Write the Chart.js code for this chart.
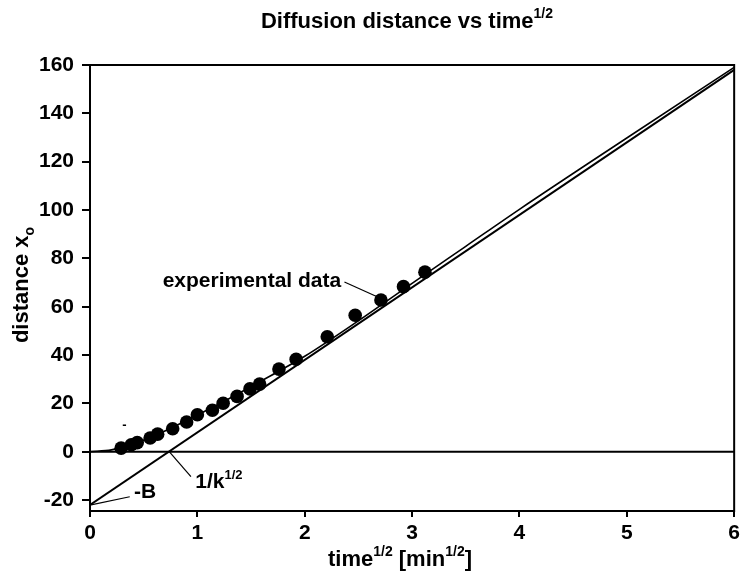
<!DOCTYPE html>
<html><head><meta charset="utf-8">
<script src="https://cdn.jsdelivr.net/npm/chart.js@4/dist/chart.umd.min.js"></script>
<style>html,body{margin:0;padding:0;background:#fff}canvas{display:block}</style>
</head><body>
<canvas id="c" width="744" height="571"></canvas>
<script>
// experimental data (time^1/2 [min^1/2], distance x_o)
const dataX = [0.29,0.385,0.44,0.56,0.63,0.77,0.90,1.00,1.14,1.24,1.37,1.49,1.58,1.76,1.92,2.21,2.47,2.71,2.92,3.12];
const dataY = [1.5,2.9,3.8,5.7,7.3,9.5,12.3,15.3,17.2,20.1,22.9,26.0,28.0,34.2,38.3,47.6,56.5,62.8,68.3,74.3];
// fitted curve
const fitX = [0,0.2,0.4,0.6,0.8,1.0,1.25,1.5,1.75,2.0,2.5,3.0,3.5,4.0,5.0,6.0];
const fitY = [0,0.8,3.2,6.6,10.8,15.2,20.9,27.0,33.1,39.5,54.2,69.7,85.0,100.3,129.8,159.0];
// asymptote line (intercept -B, crosses 0 at 1/k^1/2)
const asymX = [0,6];
const asymY = [-22,158];
// zero line
const zeroX = [0,6];
const zeroY = [0,0];
// ticks
const xTicks = [0,1,2,3,4,5,6];
const yTicks = [-20,0,20,40,60,80,100,120,140,160];

const FONT = "'Liberation Sans', Arial, sans-serif";
const pts = (xs, ys) => xs.map((x,i)=>({x, y: ys[i]}));

function drawRich(ctx, parts, x, y, size, align) {
  const fs = p => 'bold ' + (p.s ? Math.round(size*0.62) : size) + 'px ' + FONT;
  const widths = parts.map(p => { ctx.font = fs(p); return ctx.measureText(p.t).width; });
  const total = widths.reduce((a,b)=>a+b,0);
  let cx = align === 'center' ? x - total/2 : (align === 'right' ? x - total : x);
  ctx.textAlign = 'left'; ctx.textBaseline = 'alphabetic';
  parts.forEach((p,i) => {
    ctx.font = fs(p);
    const dy = p.s === 'sup' ? -size*0.45 : (p.s === 'sub' ? size*0.25 : 0);
    ctx.fillText(p.t, cx, y + dy);
    cx += widths[i];
  });
}

const deco = {
  id: 'deco',
  afterDraw(chart) {
    const {ctx, chartArea: a, scales: {x, y}} = chart;
    ctx.save();
    ctx.strokeStyle = '#000'; ctx.fillStyle = '#000';
    ctx.lineWidth = 2;
    ctx.strokeRect(a.left, a.top, a.right - a.left, a.bottom - a.top);
    // leader lines
    ctx.lineWidth = 1.2;
    const seg = (x1,y1,x2,y2) => { ctx.beginPath(); ctx.moveTo(x.getPixelForValue(x1), y.getPixelForValue(y1)); ctx.lineTo(x.getPixelForValue(x2), y.getPixelForValue(y2)); ctx.stroke(); };
    seg(2.37, 70.2, 2.68, 64.0);
    seg(0.74, 0, 0.94, -10.3);
    seg(0.01, -22, 0.37, -18.6);
    // labels
    drawRich(ctx, [{t:'experimental data'}], x.getPixelForValue(2.34), y.getPixelForValue(68.3), 21, 'right');
    drawRich(ctx, [{t:'1/k'},{t:'1/2', s:'sup'}], x.getPixelForValue(0.98), y.getPixelForValue(-15), 21, 'left');
    drawRich(ctx, [{t:'-B'}], x.getPixelForValue(0.41), y.getPixelForValue(-19), 21, 'left');
    drawRich(ctx, [{t:'-'}], x.getPixelForValue(0.30), y.getPixelForValue(9.5), 13, 'left');
    // title
    drawRich(ctx, [{t:'Diffusion distance vs time'},{t:'1/2', s:'sup'}], 407, 28, 22, 'center');
    // x title
    drawRich(ctx, [{t:'time'},{t:'1/2', s:'sup'},{t:' [min'},{t:'1/2', s:'sup'},{t:']'}], 400, 566, 22, 'center');
    // y title
    ctx.translate(28, 285);
    ctx.rotate(-Math.PI/2);
    drawRich(ctx, [{t:'distance x'},{t:'o', s:'sub'}], 0, 0, 22, 'center');
    ctx.restore();
  }
};

new Chart(document.getElementById('c'), {
  type: 'scatter',
  data: { datasets: [
    { label: 'zero', data: pts(zeroX, zeroY), showLine: true, borderColor: '#000', borderWidth: 2, pointRadius: 0 },
    { label: 'asymptote', data: pts(asymX, asymY), showLine: true, borderColor: '#000', borderWidth: 2, pointRadius: 0 },
    { label: 'fit', data: pts(fitX, fitY), showLine: true, borderColor: '#000', borderWidth: 1.6, pointRadius: 0, cubicInterpolationMode: 'monotone' },
    { label: 'experimental data', data: pts(dataX, dataY), showLine: false, pointRadius: 6.8, backgroundColor: '#000', borderColor: '#000', borderWidth: 0 }
  ]},
  options: {
    responsive: false, animation: false, devicePixelRatio: 1,
    layout: { padding: { top: 65, right: 3, left: 0, bottom: 0 } },
    plugins: { legend: { display: false }, title: { display: false }, tooltip: { enabled: false } },
    scales: {
      x: {
        type: 'linear', min: 0, max: 6,
        afterBuildTicks: s => { s.ticks = xTicks.map(v => ({value: v})); },
        afterFit: s => { s.height = 60; },
        ticks: { color: '#000', font: { family: FONT, size: 21, weight: 'bold' }, padding: 4, maxRotation: 0 },
        grid: { drawOnChartArea: false, drawTicks: true, tickLength: 6, color: '#000', lineWidth: 2 },
        border: { display: true, color: '#000', width: 2 }
      },
      y: {
        type: 'linear', min: -24.5, max: 160,
        afterBuildTicks: s => { s.ticks = yTicks.map(v => ({value: v})); },
        afterFit: s => { s.width = 90; },
        ticks: { color: '#000', font: { family: FONT, size: 21, weight: 'bold' }, padding: 8 },
        grid: { drawOnChartArea: false, drawTicks: true, tickLength: 8, color: '#000', lineWidth: 2 },
        border: { display: true, color: '#000', width: 2 }
      }
    }
  },
  plugins: [deco]
});
</script>
</body></html>
